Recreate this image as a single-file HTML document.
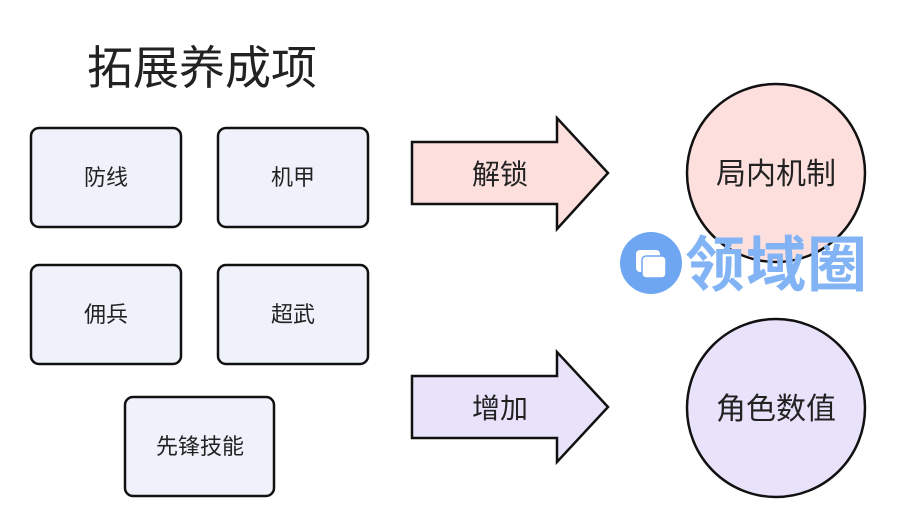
<!DOCTYPE html>
<html><head><meta charset="utf-8"><style>
html,body{margin:0;padding:0;background:#fff;}
svg{display:block;}
text{font-family:"Liberation Sans","Noto Sans CJK SC",sans-serif;fill:#222;}
</style></head><body>
<svg width="899" height="528" viewBox="0 0 899 528" xmlns="http://www.w3.org/2000/svg">
<rect width="899" height="528" fill="#fff"/>
<text x="87" y="84" font-size="46">拓展养成项</text>
<g fill="#eff2fb" stroke="#111" stroke-width="2.5">
<rect x="31" y="128" width="150" height="99" rx="8"/>
<rect x="218" y="128" width="150" height="99" rx="8"/>
<rect x="31" y="265" width="150" height="99" rx="8"/>
<rect x="218" y="265" width="150" height="99" rx="8"/>
<rect x="125" y="397" width="149" height="99" rx="8"/>
</g>
<g font-size="22" text-anchor="middle">
<text x="106" y="185">防线</text>
<text x="293" y="185">机甲</text>
<text x="106" y="322">佣兵</text>
<text x="293" y="322">超武</text>
<text x="200" y="454">先锋技能</text>
</g>
<polygon points="412,142 557,142 557,118 608,173 557,229 557,204 412,204" fill="#fde0de" stroke="#111" stroke-width="2.5"/>
<polygon points="412,376 557,376 557,352 608,407 557,462 557,438 412,438" fill="#e9e2fb" stroke="#111" stroke-width="2.5"/>
<g font-size="28" text-anchor="middle">
<text x="500" y="184">解锁</text>
<text x="500" y="418">增加</text>
</g>
<circle cx="776" cy="173" r="89" fill="#fde0de" stroke="#111" stroke-width="2.5"/>
<circle cx="776" cy="408" r="89" fill="#e9e2fb" stroke="#111" stroke-width="2.5"/>
<g font-size="30" text-anchor="middle">
<text x="776" y="184">局内机制</text>
<text x="776" y="419">角色数值</text>
</g>
<circle cx="651" cy="263" r="31" fill="#6ea6f2"/>
<rect x="636" y="250" width="24" height="22" rx="4" fill="#fff"/>
<rect x="642" y="256" width="24" height="22" rx="4" fill="#fff" stroke="#6ea6f2" stroke-width="1.5"/>
<text x="685" y="286" font-size="60" font-weight="bold" style="fill:#82b3f4" textLength="182">领域圈</text>
</svg>
</body></html>
